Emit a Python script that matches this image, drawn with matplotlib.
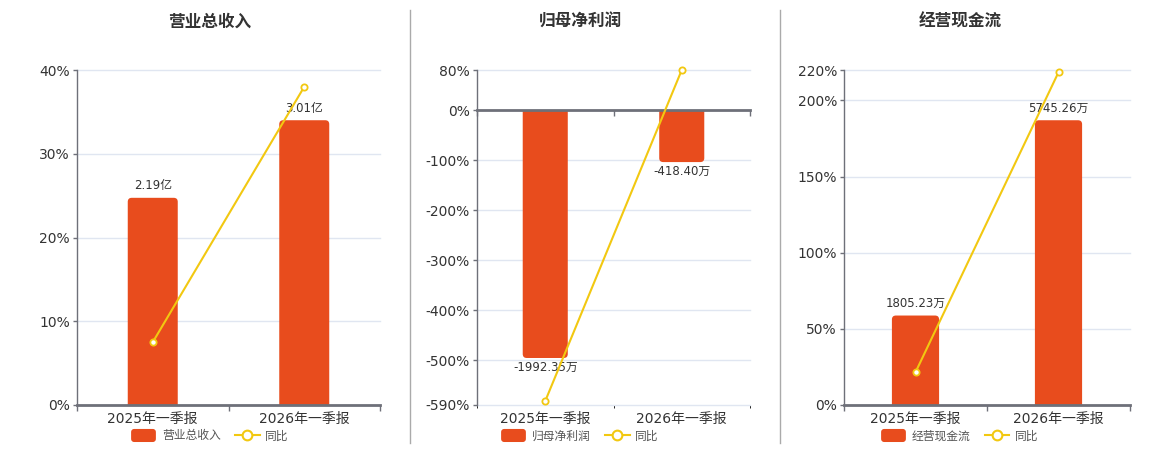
import numpy as np
import matplotlib
matplotlib.use("Agg")
import matplotlib.pyplot as plt
from matplotlib.patches import PathPatch, FancyBboxPatch, Patch
from matplotlib.path import Path
from matplotlib.lines import Line2D
from matplotlib.legend_handler import HandlerPatch

plt.rcParams['font.family'] = ['DejaVu Sans', 'Noto Sans CJK SC']

# data
periods = ['2025年一季报', '2026年一季报']

titles = ['营业总收入', '归母净利润', '经营现金流']

revenue = [2.19, 3.01]            # 亿
revenue_labels = ['2.19亿', '3.01亿']
revenue_yoy = [7.5, 38.0]         # %

profit = [-1992.35, -418.40]      # 万
profit_labels = ['-1992.35万', '-418.40万']
profit_yoy = [-582.0, 80.0]

cashflow = [1805.23, 5745.26]     # 万
cashflow_labels = ['1805.23万', '5745.26万']
cashflow_yoy = [21.5, 218.5]

pct_ticks = [
    [0, 10, 20, 30, 40],
    [-590, -500, -400, -300, -200, -100, 0, 80],
    [0, 50, 100, 150, 200, 220],
]
pct_limits = [(0, 40), (-590, 80), (0, 220)]
# range of the hidden bar axis, chosen so bars sit where the reference has them
bar_limits = [(0, 3.541), (-2370, 321.4), (0, 6759)]

bar_series = [revenue, profit, cashflow]
label_series = [revenue_labels, profit_labels, cashflow_labels]
yoy_series = [revenue_yoy, profit_yoy, cashflow_yoy]

# style
BAR_COLOR = '#E84C1D'
LINE_COLOR = '#F2C811'
GRID_COLOR = '#E0E6F1'
AXIS_COLOR = '#6E7079'
TEXT_COLOR = '#333333'

W, H = 1160, 450
axes_px = [(77, 380), (477, 750), (844, 1130)]   # left/right edge of each plot area
centers_px = [210, 580, 960]                      # title / legend centre
plot_top, plot_bottom = 70, 405

fig = plt.figure(figsize=(W / 100, H / 100), dpi=100)


def round_bars(ax, bars, r_px=4):
    # replace each bar by a path whose far end has rounded corners
    inv = ax.transData.inverted()
    p0 = inv.transform((0, 0))
    p1 = inv.transform((r_px, r_px))
    rx = abs(p1[0] - p0[0])
    ry = abs(p1[1] - p0[1])
    for b in bars:
        xl, base, w, h = b.get_x(), b.get_y(), b.get_width(), b.get_height()
        xr = xl + w
        end = base + h
        s = 1 if h >= 0 else -1
        verts = [(xl, base), (xl, end - s * ry), (xl, end), (xl + rx, end),
                 (xr - rx, end), (xr, end), (xr, end - s * ry), (xr, base), (xl, base)]
        codes = [Path.MOVETO, Path.LINETO, Path.CURVE3, Path.CURVE3,
                 Path.LINETO, Path.CURVE3, Path.CURVE3, Path.LINETO, Path.CLOSEPOLY]
        ax.add_patch(PathPatch(Path(verts, codes), fc=BAR_COLOR, ec='none', zorder=2))
        b.set_visible(False)


def rounded_handle(legend, orig_handle, xdescent, ydescent, width, height, fontsize):
    h = 9.4
    return FancyBboxPatch((-xdescent, -ydescent + (height - h) / 2), width, h,
                          boxstyle='round,pad=0,rounding_size=2.2')


for i in range(3):
    x0, x1 = axes_px[i]
    rect = [x0 / W, (H - plot_bottom) / H, (x1 - x0) / W, (plot_bottom - plot_top) / H]
    x = np.arange(len(periods))

    # bars (bottom layer, holds the grid)
    ax_bar = fig.add_axes(rect, zorder=1)
    ax_bar.set_xlim(-0.5, len(periods) - 0.5)
    ax_bar.set_ylim(*bar_limits[i])
    grid_pos = np.interp(pct_ticks[i], pct_limits[i], bar_limits[i])
    ax_bar.set_yticks(grid_pos)
    ax_bar.yaxis.grid(True, color=GRID_COLOR, lw=1)
    for gl in ax_bar.get_ygridlines():
        gl.set_clip_on(False)
    ax_bar.set_axisbelow(True)
    ax_bar.tick_params(left=False, labelleft=False, bottom=False, labelbottom=False)
    for s in ax_bar.spines.values():
        s.set_visible(False)

    bars = ax_bar.bar(x, bar_series[i], width=0.33, color=BAR_COLOR, zorder=2)
    for xi, v, lab in zip(x, bar_series[i], label_series[i]):
        off = 4 if v >= 0 else -2
        ax_bar.annotate(lab, (xi, v), xytext=(0, off), textcoords='offset points',
                        ha='center', va='bottom' if v >= 0 else 'top',
                        fontsize=8.5, color=TEXT_COLOR, zorder=3)

    # line + visible axes (top layer)
    ax = fig.add_axes(rect, zorder=2, sharex=ax_bar)
    ax.patch.set_visible(False)
    ax.set_ylim(*pct_limits[i])
    ax.set_yticks(pct_ticks[i])
    ax.set_yticklabels([f'{t}%' for t in pct_ticks[i]])
    ax.tick_params(axis='y', length=3, width=1, color=AXIS_COLOR, pad=2,
                   labelsize=10, labelcolor=TEXT_COLOR)
    for s in ['top', 'right']:
        ax.spines[s].set_visible(False)
    ax.spines['left'].set_color(AXIS_COLOR)
    ax.spines['left'].set_linewidth(1)
    ax.spines['bottom'].set_position(('data', 0))
    ax.spines['bottom'].set_color(AXIS_COLOR)
    ax.spines['bottom'].set_linewidth(2)
    ax.set_xticks([])
    ax.set_xticks(np.arange(-0.5, len(periods)), minor=True)
    ax.tick_params(axis='x', which='minor', length=4, width=1, color=AXIS_COLOR,
                   direction='out', labelbottom=False)

    ax.plot(x, yoy_series[i], color=LINE_COLOR, lw=1.5, marker='o', ms=4.5,
            mfc='white', mec=LINE_COLOR, mew=1.3, zorder=4, clip_on=False)

    # category labels stay at the bottom edge
    sec = ax.secondary_xaxis('bottom')
    sec.set_xticks(x)
    sec.set_xticklabels(periods)
    sec.tick_params(length=0, pad=5, labelsize=10, labelcolor=TEXT_COLOR)
    sec.spines['bottom'].set_visible(False)

    round_bars(ax_bar, bars)

    cx = centers_px[i] / W
    fig.text(cx, 1 - 22 / H, titles[i], ha='center', va='center',
             fontsize=12, fontweight='bold', color=TEXT_COLOR)

    bar_handle = Patch(facecolor=BAR_COLOR, edgecolor='none', label=titles[i])
    handles = [
        bar_handle,
        Line2D([0], [0], color=LINE_COLOR, lw=1.5, marker='o', ms=7,
               mfc='white', mec=LINE_COLOR, mew=1.5, label='同比'),
    ]
    fig.legend(handles=handles, loc='center', bbox_to_anchor=(cx, 1 - 436 / H),
               ncol=2, frameon=False, fontsize=8.5, labelcolor='#555555',
               handlelength=2.1, handleheight=1.1, handletextpad=0.5,
               columnspacing=1.2, borderaxespad=0, borderpad=0,
               handler_map={bar_handle: HandlerPatch(patch_func=rounded_handle)})

# separators between panels
for sx in [410, 780]:
    fig.add_artist(Line2D([sx / W, sx / W], [1 - 443 / H, 1 - 10 / H],
                          color='#AAAAAA', lw=1))

fig.savefig('out.png', dpi=100)
